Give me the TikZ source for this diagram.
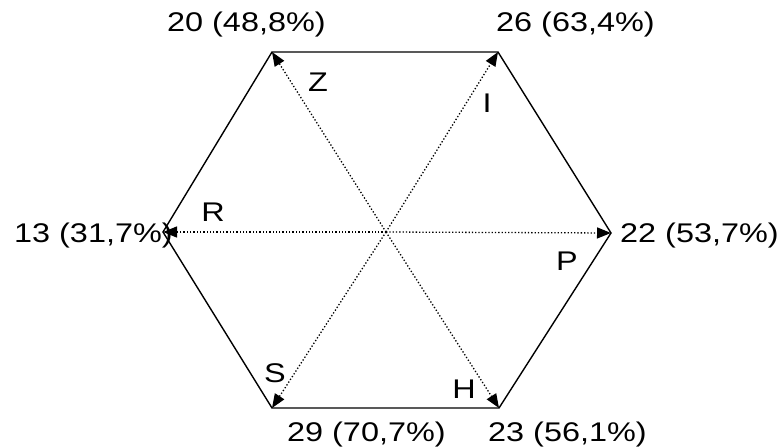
\documentclass[tikz,border=0pt]{standalone}
\usepackage{fontspec}
\usepackage{graphicx}
\setmainfont{Liberation Sans}
\usetikzlibrary{arrows.meta}
\newcommand{\wt}[1]{\scalebox{1.2}[1]{#1}}
\begin{document}
\begin{tikzpicture}[x=1pt,y=-1pt,
  lbl/.style={inner sep=0pt,font=\fontsize{27}{32}\selectfont},
  side/.style={line width=1.4pt,line join=miter},
  ray/.style={line width=1.3pt,dotted,-{Triangle[length=14pt,width=11pt]}}]
\useasboundingbox (0,0) rectangle (778,447);
\coordinate (c) at (386,232);
\coordinate (tl) at (272,52);
\coordinate (tr) at (498,52);
\coordinate (r) at (611,233);
\coordinate (br) at (499,408);
\coordinate (bl) at (272,408);
\coordinate (l) at (163,232);
\draw[side] (tl) -- (tr) -- (r) -- (br) -- (bl) -- (l) -- cycle;
\foreach \v in {tl,tr,r,br,bl,l} \draw[ray] (c) -- (\v);
\node[lbl,anchor=base west] (ntl) at (167,31) {\wt{20 (48,8\%)}};
\node[lbl,anchor=base west] (ntr) at (496,31) {\wt{26 (63,4\%)}};
\node[lbl,anchor=base west] (nl) at (14,242) {\wt{13 (31,7\%)}};
\node[lbl,anchor=base west] (nr) at (620,242) {\wt{22 (53,7\%)}};
\node[lbl,anchor=base west] (nbl) at (287,441) {\wt{29 (70,7\%)}};
\node[lbl,anchor=base west] (nbr) at (488,441) {\wt{23 (56,1\%)}};
\node[lbl] (z) at (318,82) {\wt{Z}};
\node[lbl] (i) at (487,103) {\wt{I}};
\node[lbl] (rr) at (213,212) {\wt{R}};
\node[lbl] (p) at (567,261) {\wt{P}};
\node[lbl] (s) at (275,373) {\wt{S}};
\node[lbl] (h) at (464,389) {\wt{H}};
\end{tikzpicture}
\end{document}
